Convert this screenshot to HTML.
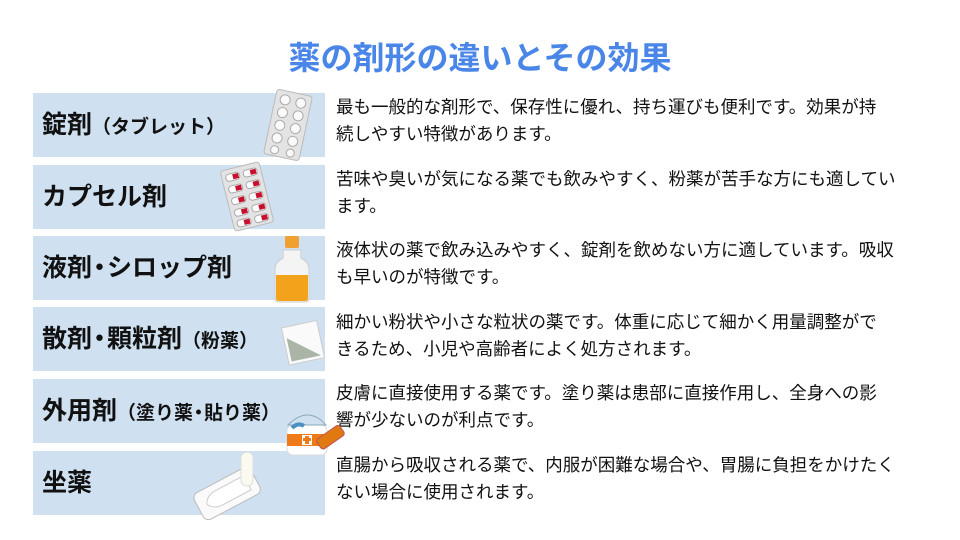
<!DOCTYPE html>
<html><head><meta charset="utf-8"><style>
body{margin:0;width:960px;height:540px;background:#fff;position:relative;overflow:hidden;font-family:"Liberation Sans","Noto Sans CJK JP",sans-serif}
.t{position:absolute;top:33px;left:0;width:960px;text-align:center;font-size:32px;font-weight:bold;color:#4a86e8}
.b{position:absolute;left:33px;width:292px;height:64px;background:#cfe0f1}
.l{position:absolute;left:42px;font-size:25px;font-weight:bold;color:#111;line-height:64px;white-space:nowrap}
.l small{font-size:19px}
.dt{display:inline-block;margin:0 -5px}
.d{position:absolute;left:336px;font-size:17.5px;line-height:27px;color:#111;width:620px;white-space:nowrap}
svg{position:absolute;left:0;top:0}
</style></head><body>
<div class="t">薬の剤形の違いとその効果</div>
<div class="b" style="top:93px"></div><div class="l" style="top:93px">錠剤<small>（タブレット）</small></div>
<div class="b" style="top:165px"></div><div class="l" style="top:165px">カプセル剤</div>
<div class="b" style="top:236px"></div><div class="l" style="top:236px">液剤<span class="dt">・</span>シロップ剤</div>
<div class="b" style="top:307px"></div><div class="l" style="top:307px">散剤<span class="dt">・</span>顆粒剤<small>（粉薬）</small></div>
<div class="b" style="top:379px"></div><div class="l" style="top:379px">外用剤<small>（塗り薬<span class="dt" style="margin:0 -4px">・</span>貼り薬）</small></div>
<div class="b" style="top:451px"></div><div class="l" style="top:451px">坐薬</div>
<div class="d" style="top:94px">最も一般的な剤形で、保存性に優れ、持ち運びも便利です。効果が持<br>続しやすい特徴があります。</div>
<div class="d" style="top:166px">苦味や臭いが気になる薬でも飲みやすく、粉薬が苦手な方にも適してい<br>ます。</div>
<div class="d" style="top:237px">液体状の薬で飲み込みやすく、錠剤を飲めない方に適しています。吸収<br>も早いのが特徴です。</div>
<div class="d" style="top:309px">細かい粉状や小さな粒状の薬です。体重に応じて細かく用量調整がで<br>きるため、小児や高齢者によく処方されます。</div>
<div class="d" style="top:380px">皮膚に直接使用する薬です。塗り薬は患部に直接作用し、全身への影<br>響が少ないのが利点です。</div>
<div class="d" style="top:452px">直腸から吸収される薬で、内服が困難な場合や、胃腸に負担をかけたく<br>ない場合に使用されます。</div>
<svg width="960" height="540">
<g transform="rotate(12 288 125)"><rect x="270" y="92" width="36" height="66" rx="3" fill="#e3e3e3" stroke="#bbb"/>
<g fill="#fafafa" stroke="#aaa"><circle cx="280" cy="101" r="5"/><circle cx="296" cy="101" r="5"/><circle cx="280" cy="114" r="5"/><circle cx="296" cy="114" r="5"/><circle cx="280" cy="127" r="5"/><circle cx="296" cy="127" r="5"/><circle cx="280" cy="140" r="5"/><circle cx="296" cy="140" r="5"/><circle cx="280" cy="152" r="4"/><circle cx="296" cy="152" r="4"/></g></g>
<g transform="rotate(-14 245 197)"><rect x="227" y="166" width="40" height="62" rx="3" fill="#e3e3e3" stroke="#bbb"/>
<g fill="#fff" stroke="#aaa"><rect x="231" y="171" width="14" height="7" rx="3"/><rect x="249" y="171" width="14" height="7" rx="3"/><rect x="231" y="183" width="14" height="7" rx="3"/><rect x="249" y="183" width="14" height="7" rx="3"/><rect x="231" y="195" width="14" height="7" rx="3"/><rect x="249" y="195" width="14" height="7" rx="3"/><rect x="231" y="207" width="14" height="7" rx="3"/><rect x="249" y="207" width="14" height="7" rx="3"/><rect x="231" y="218" width="14" height="7" rx="3"/><rect x="249" y="218" width="14" height="7" rx="3"/></g>
<g fill="#c8102e"><rect x="238" y="172" width="6" height="5"/><rect x="256" y="172" width="6" height="5"/><rect x="238" y="184" width="6" height="5"/><rect x="256" y="184" width="6" height="5"/><rect x="238" y="196" width="6" height="5"/><rect x="256" y="196" width="6" height="5"/><rect x="238" y="208" width="6" height="5"/><rect x="256" y="208" width="6" height="5"/><rect x="238" y="219" width="6" height="5"/><rect x="256" y="219" width="6" height="5"/></g></g>
<rect x="285" y="236" width="14" height="12" rx="2" fill="#f0a030"/>
<path d="M283 250h18v8q8 4 8 12v28q0 4-4 4h-26q-4 0-4-4v-28q0-8 8-12z" fill="#f4f4f4" stroke="#ccc"/>
<path d="M276 275h32v23q0 3-3 3h-26q-3 0-3-3z" fill="#f2a31b"/>
<g transform="rotate(-12 302 343)"><rect x="285" y="324" width="36" height="38" fill="#fafafa" stroke="#ccc"/><path d="M288 335l30 24h-30z" fill="#aab5a8"/></g>
<rect x="287" y="425" width="40" height="30" rx="6" fill="#fff" stroke="#ddd"/>
<path d="M288 425q20-20 38 0z" fill="#cfe0f1" stroke="#8ab"/>
<path d="M292 428q6-6 12-2" stroke="#4a90c0" stroke-width="4" fill="none"/>
<rect x="287" y="434" width="40" height="12" fill="#ef7a1a"/>
<rect x="302" y="435" width="10" height="10" fill="#fff"/><rect x="305" y="436" width="4" height="8" fill="#ef7a1a"/><rect x="303" y="438" width="8" height="3" fill="#ef7a1a"/>
<g transform="rotate(-35 330 440)"><rect x="318" y="432" width="28" height="12" rx="3" fill="#e07a10" stroke="#b55"/></g>
<g transform="rotate(-28 228 493)"><rect x="195" y="478" width="64" height="30" rx="6" fill="#fafafa" stroke="#bbb"/><path d="M204 493q4-8 14-8h32v16h-32q-10 0-14-8z" fill="#fff" stroke="#ccc"/></g>
<rect x="241" y="452" width="12" height="34" rx="6" fill="#fbfaf0" stroke="#ddd"/>
</svg>
</body></html>
